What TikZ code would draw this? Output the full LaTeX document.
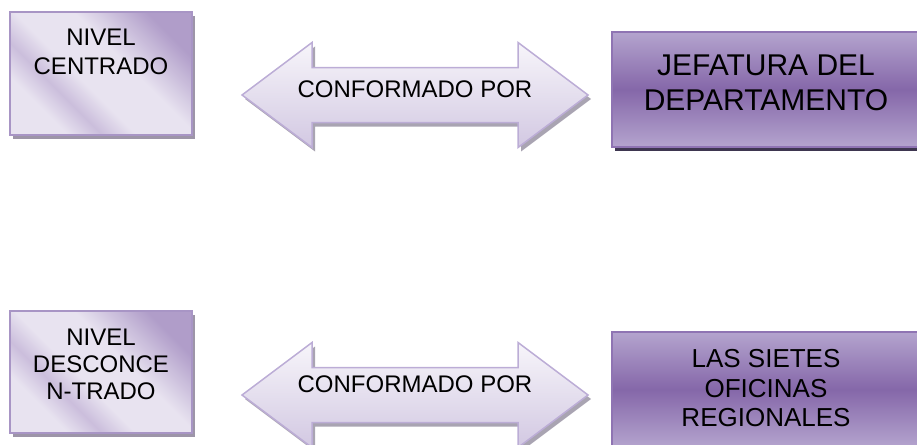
\documentclass[tikz,border=0pt]{standalone}
\usepackage{fontspec}
\setmainfont{Liberation Sans}
\usetikzlibrary{shadows}
\definecolor{lavD}{HTML}{B09DC9}
\definecolor{lavL}{HTML}{E8E3F0}
\definecolor{lavM}{HTML}{CBBEDC}
\definecolor{lavBorder}{HTML}{A895C5}
\definecolor{lavShadow}{HTML}{9D95A8}
\definecolor{purTop}{HTML}{B4A4CE}
\definecolor{purMid}{HTML}{8567A9}
\definecolor{purBorder}{HTML}{8F74B3}
\definecolor{purShadow}{HTML}{3E3650}
\definecolor{arrTop}{HTML}{F7F5FA}
\definecolor{arrBot}{HTML}{D2C8E2}
\definecolor{arrBorder}{HTML}{BCADD6}
\definecolor{arrShadow}{HTML}{A9A4B2}
\pgfdeclarehorizontalshading{lavshade}{100bp}{color(0bp)=(lavD); color(25bp)=(lavD); color(42bp)=(lavL); color(56bp)=(lavL); color(64bp)=(lavM); color(72bp)=(lavL); color(100bp)=(lavL)}
\tikzset{
  lightbox/.style={draw=lavBorder, line width=2pt, shading=lavshade, shading angle=225,
    minimum width=182pt, minimum height=123pt, inner sep=0pt,
    drop shadow={shadow xshift=3pt, shadow yshift=-4pt, fill=lavShadow, opacity=1}},
  darkbox/.style={draw=purBorder, line width=2pt, top color=purTop, bottom color=purTop, middle color=purMid,
    minimum width=313pt, minimum height=115pt, inner sep=0pt,
    drop shadow={shadow xshift=3pt, shadow yshift=-4pt, fill=purShadow, opacity=1}},
  arrowshape/.style={draw=arrBorder, line width=1.5pt, top color=arrTop, bottom color=arrBot},
  arrowshadow/.style={fill=arrShadow},
  txt/.style={inner sep=0pt, align=center, text=black}
}
\begin{document}
\begin{tikzpicture}[x=1pt,y=-1pt]
\useasboundingbox (0,0) rectangle (917,444);
\clip (0,0) rectangle (917,444);
% light boxes
\node[lightbox] (n1) at (101,73.5) {};
\node[lightbox, minimum height=122pt] (n2) at (101,372) {};
% dark boxes
\node[darkbox] (j1) at (768.5,89.5) {};
\node[darkbox] (j2) at (768.5,389.5) {};
% arrows
\foreach \dy/\nm in {0/a1,300/a2}{
  \begin{scope}[yshift=-\dy pt]
  \fill[arrowshadow, xshift=3pt, yshift=-4pt] (242,95) -- (312,42.5) -- (312,67.5) -- (518,67.5) -- (518,42.5) -- (588,95) -- (518,147.5) -- (518,122.5) -- (312,122.5) -- (312,147.5) -- cycle;
  \draw[arrowshape] (242,95) -- (312,42.5) -- (312,67.5) -- (518,67.5) -- (518,42.5) -- (588,95) -- (518,147.5) -- (518,122.5) -- (312,122.5) -- (312,147.5) -- cycle;
  \coordinate (\nm) at (415,95);
  \end{scope}
}
% texts
\node[txt, font=\fontsize{24}{28.5}\selectfont] (t1) at (101,51.7) {NIVEL\\CENTRADO};
\node[txt, font=\fontsize{24}{27}\selectfont] (t2) at (101,364.2) {NIVEL\\DESCONCE\\N-TRADO};
\node[txt, font=\fontsize{24}{28}\selectfont] (c1) at (415,89) {CONFORMADO POR};
\node[txt, font=\fontsize{24}{28}\selectfont] (c2) at (415,384) {CONFORMADO POR};
\node[txt, font=\fontsize{30}{35}\selectfont] (t3) at (766,82.5) {JEFATURA DEL\\DEPARTAMENTO};
\node[txt, font=\fontsize{26}{29.5}\selectfont] (t4) at (766,388.5) {LAS SIETES\\OFICINAS\\REGIONALES};
\end{tikzpicture}
\end{document}
